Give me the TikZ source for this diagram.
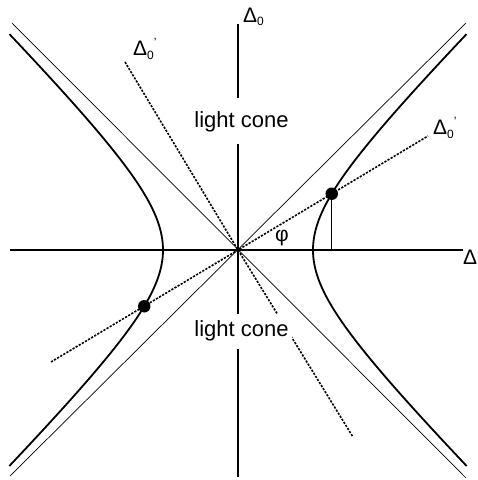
\documentclass[tikz,border=0pt]{standalone}
\usepackage{fontspec}
\setmainfont{Liberation Sans}
\newcommand{\sbz}{\raisebox{-4pt}{\fontsize{12}{12}\selectfont 0}}
\newcommand{\sbzp}{\raisebox{-4pt}{\fontsize{12}{12}\selectfont 0}\raisebox{9pt}{\fontsize{12}{12}\selectfont '}}
\begin{document}
\begin{tikzpicture}[x=1pt,y=1pt,
  axis/.style={line width=1.4pt},
  cone/.style={line width=0.7pt},
  hyp/.style={line width=1.8pt},
  dotline/.style={line width=1.6pt, dash pattern=on 2.2pt off 1.4pt},
  dot/.style={circle, fill=black, inner sep=0pt, minimum size=12.5pt},
  lbl/.style={inner sep=0pt, font=\fontsize{21}{21}\selectfont},
  conelbl/.style={fill=white, inner xsep=3pt, inner ysep=0pt, font=\fontsize{22}{22}\selectfont}]
\useasboundingbox (-238,-230) rectangle (240,250);
\coordinate (O) at (0,0);
% axes
\coordinate (xl) at (-228,0);
\coordinate (xr) at (225,0);
\coordinate (yt) at (0,226);
\coordinate (yb) at (0,-227);
\draw[axis] (xl) -- (xr);
\draw[axis] (yb) -- (yt);
% light cone
\coordinate (c1a) at (-226,227);
\coordinate (c1b) at (228,-228);
\coordinate (c2a) at (-228,-226);
\coordinate (c2b) at (228,227);
\draw[cone] (c1a) -- (c1b);
\draw[cone] (c2a) -- (c2b);
% hyperbola
\draw[hyp] plot[domain=-1.78:1.78, samples=120, smooth] ({75*cosh(\x)},{75*sinh(\x)});
\draw[hyp] plot[domain=-1.78:1.78, samples=120, smooth] ({-75*cosh(\x)},{75*sinh(\x)});
% dashed lines
\coordinate (d1a) at (-187,-112);
\coordinate (d1b) at (190,114);
\draw[dotline] (d1a) -- (O) -- (d1b);
\coordinate (d2a) at (-113,188);
\coordinate (d2d) at (115,-187);
\draw[dotline] (d2a) -- (O) -- (d2d);
% events
\node[dot] (P) at (93.75,56.25) {};
\node[dot] (Q) at (-93.75,-56.25) {};
\coordinate (Pf) at (93.75,0);
\draw[line width=1.1pt] (P.center) -- (Pf);
% labels
\node[lbl, anchor=base west] (lD0) at (5,228) {Δ\sbz};
\node[lbl, anchor=base west] (lD) at (225,-14) {Δ};
\node[lbl, anchor=base west] (lDp1) at (195,116) {Δ\sbzp};
\node[lbl, anchor=base west] (lDp2) at (-105,195) {Δ\sbzp};
\node[lbl] (phi) at (44,12) {φ};
\node[conelbl, minimum height=46pt] (lc1) at (3.5,128.6) {light cone};
\node[conelbl, minimum height=35pt] (lc2) at (3.5,-81) {light cone};
\end{tikzpicture}
\end{document}
